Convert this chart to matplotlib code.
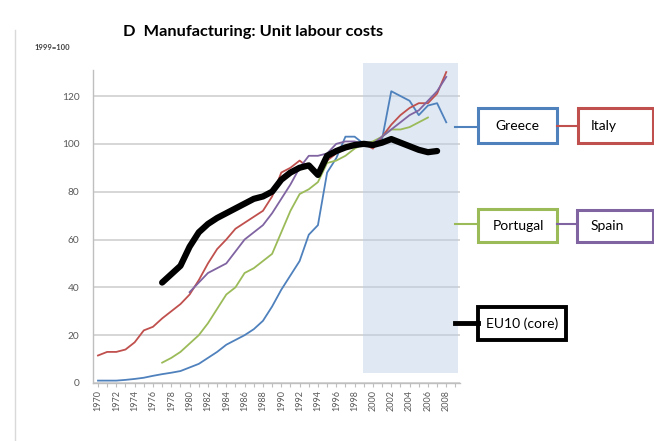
import numpy as np
import matplotlib
matplotlib.use("Agg")
import matplotlib.pyplot as plt
from matplotlib.patches import Rectangle
from matplotlib.lines import Line2D

nan = np.nan
years = list(range(1970, 2010))

greece = [1, 1, 1, 1.3, 1.7, 2.2, 3, 3.7, 4.3, 5,
          6.5, 8, 10.5, 13, 16, 18, 20, 22.5, 26, 32,
          39, 45, 51, 62, 66, 88, 94, 103, 103, 100,
          99, 102, 122, 120, 118, 112, 116, 117, 109, nan]
italy = [11.5, 13, 13, 14, 17, 22, 23.5, 27, 30, 33,
         37, 43, 50, 56, 60, 64.5, 67, 69.5, 72, 78,
         88, 90, 93, 90, 88, 93, 96, 98, 99, 100,
         98, 103, 108, 112, 115, 117, 117, 121, 130, nan]
portugal = [nan] * 7 + [8.5, 10.5, 13,
            16.5, 20, 25, 31, 37, 40, 46, 48, 51, 54,
            63, 72, 79, 81, 84, 92, 93, 95, 98, 100,
            101, 103, 106, 106, 107, 109, 111, nan, nan, nan]
spain = [nan] * 10 + [38, 42, 46, 48, 50, 55, 60, 63, 66, 71,
                      77, 83, 90, 95, 95, 96, 100, 101, 101, 100,
                      100, 103, 106, 109, 112, 114, 118, 122, 128, nan]
eu10 = [nan] * 7 + [42, 45.5, 49,
        57, 63, 66.5, 69, 71, 73, 75, 77, 78, 80,
        85, 88, 90, 91, 87, 95, 97, 98.5, 99.5, 100,
        99.5, 100.5, 102, 100.5, 99, 97.5, 96.5, 97, nan, nan]

W, H = 654, 441
fig = plt.figure(figsize=(W / 100, H / 100), dpi=100)
plt.rcParams['font.family'] = ['Lato', 'DejaVu Sans']


def fx(px):
    return px / W


def fy(py):
    return 1 - py / H


ax = fig.add_axes([fx(93.4), fy(383), fx(460) - fx(93.4), fy(69.7) - fy(383)])
ax.set_xlim(1969.5, 2009.5)
ax.set_ylim(0, 131)

# shaded euro period
ax.add_patch(Rectangle((1998.9, 4.2), 10.4, 129.6, facecolor='#b9cde5', alpha=0.45,
                       edgecolor='none', zorder=1.5, clip_on=False))

ax.set_yticks(range(0, 121, 20))
ax.grid(axis='y', color='#d0d0d0', linewidth=1.2, zorder=1)
ax.set_axisbelow(True)

ax.plot(years, greece, color='#4f81bd', lw=1.3, zorder=3)
ax.plot(years, italy, color='#c0504d', lw=1.3, zorder=3)
ax.plot(years, portugal, color='#9bbb59', lw=1.3, zorder=3)
ax.plot(years, spain, color='#8064a2', lw=1.3, zorder=3)
ax.plot(years, eu10, color='black', lw=4.5, zorder=4, solid_capstyle='round')

for s in ['top', 'right']:
    ax.spines[s].set_visible(False)
for s in ['left', 'bottom']:
    ax.spines[s].set_color('#bfbfbf')
    ax.spines[s].set_linewidth(1)

ax.set_xticks(years)
ax.set_xticklabels([str(y) if y % 2 == 0 else '' for y in years][:-1] + [''],
                   rotation=90, fontsize=6.5, color='#595959')
ax.tick_params(axis='x', length=3, color='#bfbfbf', pad=2)
ax.tick_params(axis='y', length=0, labelsize=7.3, labelcolor='#595959', pad=10)

fig.text(fx(253), fy(32), 'D  Manufacturing: Unit labour costs', ha='center', va='center',
         fontsize=11.8, fontweight='bold')
fig.text(fx(52), fy(47), '1999=100', ha='center', va='center', fontsize=5.5,
         fontweight='bold', color='#404040')

fig.add_artist(Line2D([fx(15), fx(15)], [fy(30), fy(441)], color='#d9d9d9', lw=1))


def box(x0, y0, x1, y1, color, text, tx, lw=2.2, ha='center'):
    fig.add_artist(Rectangle((fx(x0), fy(y1)), fx(x1) - fx(x0), fy(y0) - fy(y1),
                             facecolor='white', edgecolor=color, lw=lw,
                             transform=fig.transFigure, clip_on=False))
    fig.text(fx(tx), fy((y0 + y1) / 2), text, ha=ha, va='center', fontsize=10)


def link(x0, x1, y, color, lw=1.5):
    fig.add_artist(Line2D([fx(x0), fx(x1)], [fy(y), fy(y)], color=color, lw=lw))


link(455, 478, 127, '#4f81bd')
link(557, 578, 126, '#c0504d')
box(478, 108, 557, 143, '#4f81bd', 'Greece', 517)
box(578, 108, 653, 143, '#c0504d', 'Italy', 591, ha='left')

link(455, 478, 224, '#9bbb59')
link(557, 577, 224, '#8064a2')
box(478, 209, 557, 242, '#9bbb59', 'Portugal', 518)
box(577, 210, 653, 242, '#8064a2', 'Spain', 591, ha='left')

link(455, 478, 323, 'black', lw=3.5)
box(478, 307, 566, 340, 'black', 'EU10 (core)', 522, lw=2.8)

fig.savefig('out.png', dpi=100)
